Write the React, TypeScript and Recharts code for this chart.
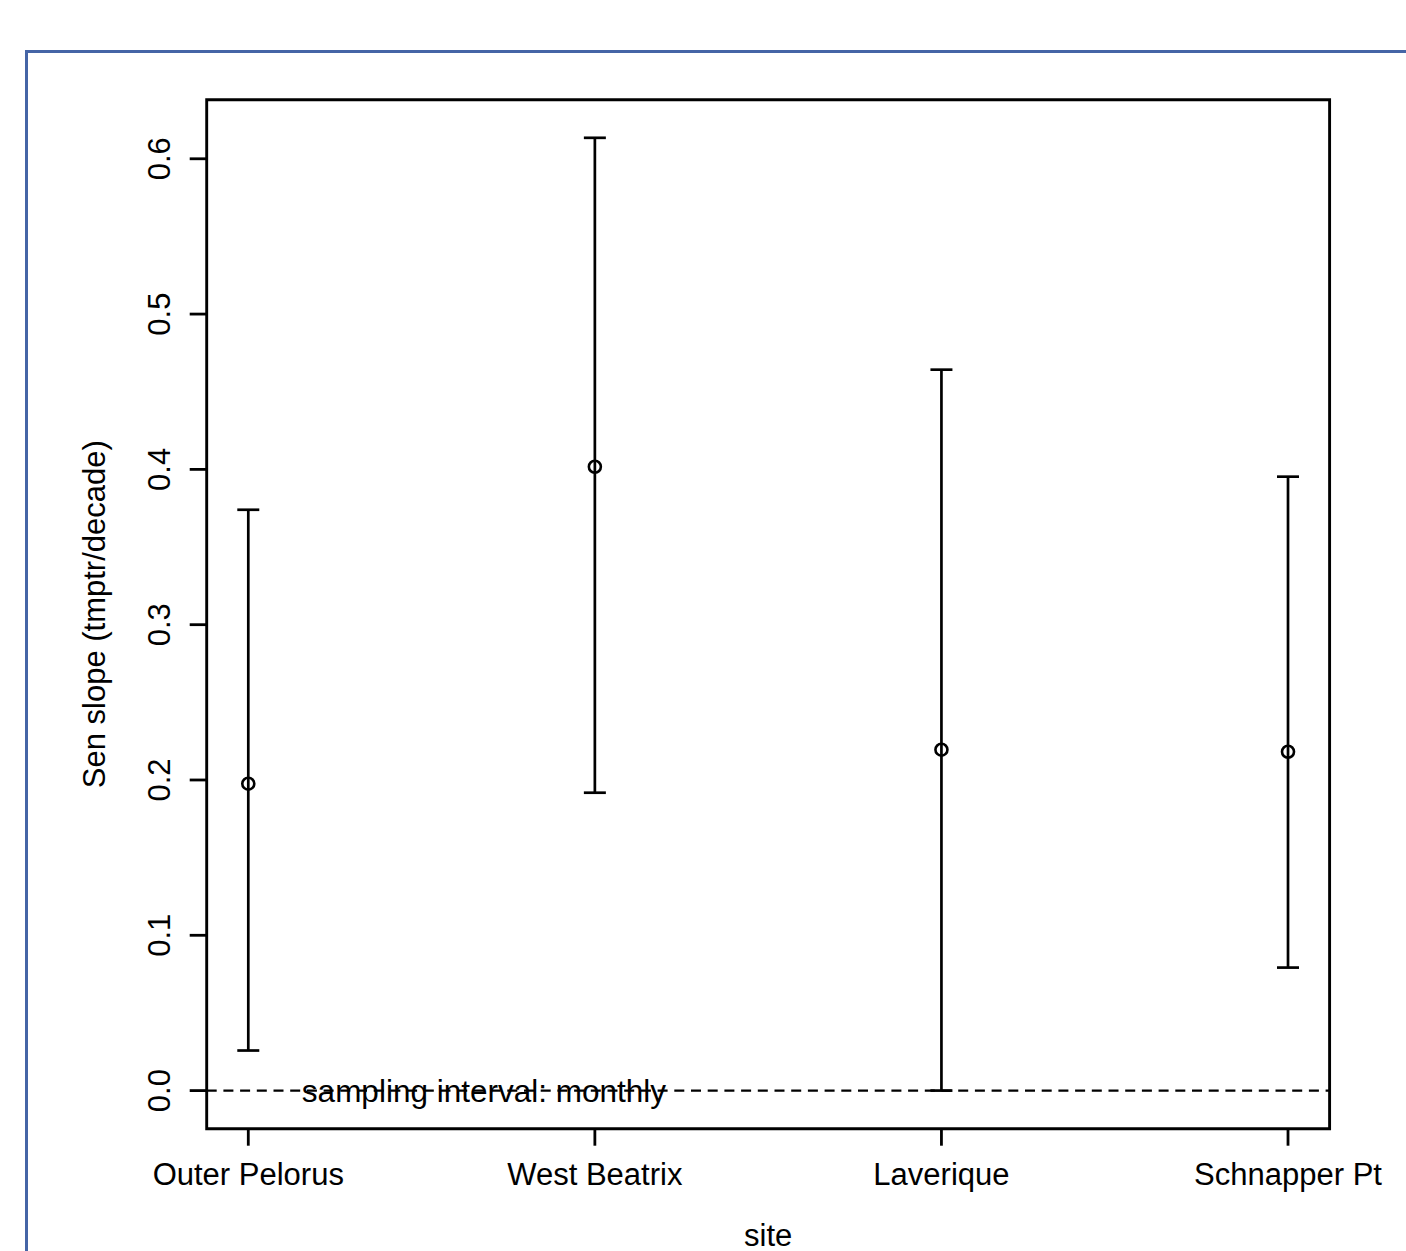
import React from "react";
import {
  ComposedChart,
  Scatter,
  ErrorBar,
  XAxis,
  YAxis,
  ReferenceLine,
  ReferenceArea,
  ReferenceDot,
} from "recharts";

const sites = ["Outer Pelorus", "West Beatrix", "Laverique", "Schnapper Pt"];
const slopes = [0.1976, 0.4017, 0.2195, 0.2182];
const lowerCI = [0.0258, 0.1918, 0.0, 0.0792];
const upperCI = [0.374, 0.6135, 0.4642, 0.3953];
const yTicks = [0, 0.1, 0.2, 0.3, 0.4, 0.5, 0.6];
const xTicks = [1, 2, 3, 4];
const annotation = "sampling interval: monthly";
const annotationX = 1.68;

const data = sites.map((s, i) => ({
  x: i + 1,
  y: slopes[i],
  err: [slopes[i] - lowerCI[i], upperCI[i] - slopes[i]],
}));

const FONT = "'Liberation Sans', Arial, Helvetica, sans-serif";

const YTick = (props: any) => {
  const { x, y, payload } = props;
  return (
    <text
      transform={`translate(${x},${y}) rotate(-90)`}
      x={0}
      y={0}
      textAnchor="middle"
      fontFamily={FONT}
      fontSize={31}
      fill="#000"
    >
      {Number(payload.value).toFixed(1)}
    </text>
  );
};

const XTick = (props: any) => {
  const { x, y, payload } = props;
  return (
    <text x={x} y={y} textAnchor="middle" fontFamily={FONT} fontSize={31} fill="#000">
      {sites[payload.value - 1]}
    </text>
  );
};

const OpenCircle = (props: any) => {
  const { cx, cy } = props;
  return <circle cx={cx} cy={cy} r={6} fill="none" stroke="#000" strokeWidth={2.6} />;
};

export default function App() {
  return (
    <div
      style={{
        position: "absolute",
        left: 0,
        top: 0,
        width: 1406,
        height: 1251,
        overflow: "hidden",
        background: "#fff",
      }}
    >
      <div
        style={{
          position: "absolute",
          left: 25,
          top: 50,
          width: 1400,
          height: 1240,
          borderLeft: "3px solid #4565a6",
          borderTop: "3px solid #4565a6",
        }}
      />
      <div style={{ position: "absolute", left: 0, top: 0 }}>
        <ComposedChart
          width={1406}
          height={1251}
          data={data}
          margin={{ top: 99.7, right: 76.4, bottom: 62.3, left: 106.7 }}
        >
          <XAxis
            type="number"
            dataKey="x"
            domain={[0.88, 4.12]}
            allowDataOverflow
            ticks={xTicks}
            height={60}
            axisLine={false}
            tickLine={{ stroke: "#000", strokeWidth: 2.8 }}
            tickSize={17}
            tickMargin={39.3}
            tick={<XTick />}
            interval={0}
            label={{
              content: (p: any) => {
                const vb = p.viewBox || {};
                return (
                  <text
                    x={vb.x + vb.width / 2}
                    y={vb.y + 116.8}
                    textAnchor="middle"
                    fontFamily={FONT}
                    fontSize={31}
                    fill="#000"
                  >
                    site
                  </text>
                );
              },
            }}
          />
          <YAxis
            type="number"
            dataKey="y"
            domain={[-0.02454, 0.63804]}
            allowDataOverflow
            ticks={yTicks}
            width={100}
            axisLine={false}
            tickLine={{ stroke: "#000", strokeWidth: 2.8 }}
            tickSize={17}
            tickMargin={20}
            tick={<YTick />}
            interval={0}
            label={{
              content: (p: any) => {
                const vb = p.viewBox || {};
                const cx = vb.x - 1.7;
                const cy = vb.y + vb.height / 2;
                return (
                  <text
                    transform={`translate(${cx},${cy}) rotate(-90)`}
                    x={0}
                    y={0}
                    textAnchor="middle"
                    fontFamily={FONT}
                    fontSize={31}
                    fill="#000"
                  >
                    Sen slope (tmptr/decade)
                  </text>
                );
              },
            }}
          />
          <ReferenceArea
            x1={0.88}
            x2={4.12}
            y1={-0.02454}
            y2={0.63804}
            fill="none"
            fillOpacity={0}
            stroke="#000"
            strokeWidth={2.9}
            ifOverflow="visible"
          />
          <ReferenceLine
            y={0}
            stroke="#000"
            strokeWidth={2.4}
            strokeDasharray="10 6.7"
          />
          <ReferenceDot
            x={annotationX}
            y={0}
            ifOverflow="visible"
            shape={(p: any) => (
              <text
                x={p.cx}
                y={p.cy + 11}
                textAnchor="middle"
                fontFamily={FONT}
                fontSize={31.5}
                fill="#000"
              >
                {annotation}
              </text>
            )}
          />
          <Scatter dataKey="y" isAnimationActive={false} shape={<OpenCircle />}>
            <ErrorBar
              dataKey="err"
              direction="y"
              width={11}
              stroke="#000"
              strokeWidth={2.7}
              isAnimationActive={false}
            />
          </Scatter>
        </ComposedChart>
      </div>
    </div>
  );
}
